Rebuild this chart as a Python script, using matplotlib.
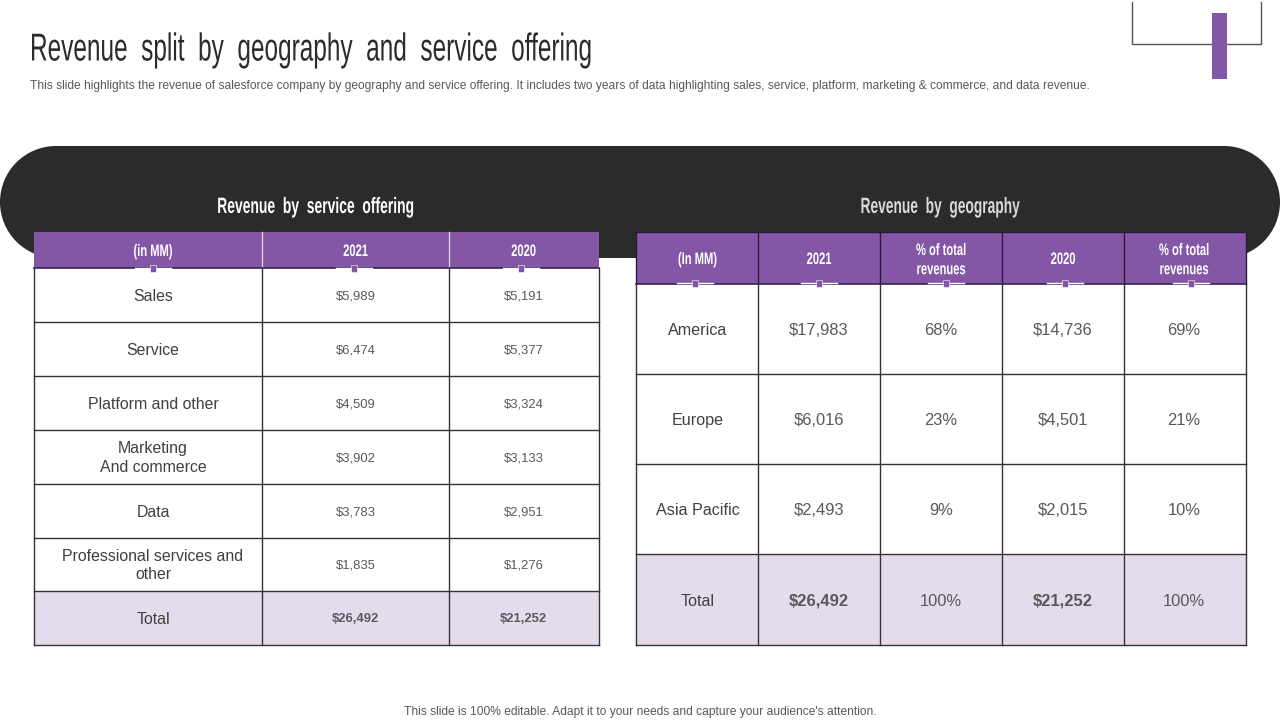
import matplotlib
matplotlib.use("Agg")
import matplotlib.pyplot as plt
from matplotlib.patches import Rectangle, Circle
from matplotlib.patheffects import AbstractPathEffect
from matplotlib.transforms import Affine2D

TITLE = "Revenue  split  by  geography  and  service  offering"
SUBTITLE = ("This slide highlights the revenue of salesforce company by geography and service offering. "
            "It includes two years of data highlighting sales, service, platform, marketing & commerce, and data revenue.")
FOOTER = "This slide is 100% editable. Adapt it to your needs and capture your audience's attention."

LEFT_TITLE = "Revenue  by  service  offering"
RIGHT_TITLE = "Revenue  by  geography"

left_header = ["(in MM)", "2021", "2020"]
left_rows = ["Sales", "Service", "Platform and other", "Marketing\nAnd commerce", "Data",
             "Professional services and\nother", "Total"]
left_2021 = ["$5,989", "$6,474", "$4,509", "$3,902", "$3,783", "$1,835", "$26,492"]
left_2020 = ["$5,191", "$5,377", "$3,324", "$3,133", "$2,951", "$1,276", "$21,252"]

right_header = ["(In MM)", "2021", "% of total\nrevenues", "2020", "% of total\nrevenues"]
right_rows = ["America", "Europe", "Asia Pacific", "Total"]
right_2021 = ["$17,983", "$6,016", "$2,493", "$26,492"]
right_2021_pct = ["68%", "23%", "9%", "100%"]
right_2020 = ["$14,736", "$4,501", "$2,015", "$21,252"]
right_2020_pct = ["69%", "21%", "10%", "100%"]

PURPLE = "#8357a5"
DARK = "#2b2b2b"
LAV = "#e4dcec"
TXT = "#404040"
VAL = "#595959"
SANS = ["Liberation Sans", "DejaVu Sans"]


class SqueezeX(AbstractPathEffect):
    """Draw text narrower about a pixel x position (no condensed font is installed)."""

    def __init__(self, sx, x0):
        super().__init__()
        self.sx, self.x0 = sx, x0

    def draw_path(self, renderer, gc, tpath, affine, rgbFace=None):
        a = affine + Affine2D().translate(-self.x0, 0).scale(self.sx, 1).translate(self.x0, 0)
        renderer.draw_path(gc, tpath, a, rgbFace)


fig = plt.figure(figsize=(12.8, 7.2), dpi=100, facecolor="white")
ax = fig.add_axes([0, 0, 1, 1])
ax.set_xlim(0, 1280)
ax.set_ylim(720, 0)
ax.axis("off")

# header text
ax.text(30, 60.5, TITLE, family=SANS, fontsize=28, color=DARK, va="baseline", ha="left",
        path_effects=[SqueezeX(0.627, 30)])
ax.text(30, 85, SUBTITLE, family=SANS, fontsize=8.65, color="#595959", va="center_baseline", ha="left")
ax.text(640, 711, FOOTER, family=SANS, fontsize=8.67, color="#595959", va="center_baseline", ha="center")

# corner ornament
ax.plot([1132, 1132, 1261, 1261], [2, 43.5, 43.5, 2], color="#555555", lw=1.0, zorder=2)
ax.add_patch(Rectangle((1212, 13), 15, 66, fc=PURPLE, ec="none", zorder=3))

# dark band
r = 56
ax.add_patch(Rectangle((r, 146), 1280 - 2 * r, 2 * r, fc=DARK, ec="none", zorder=1))
ax.add_patch(Circle((r, 146 + r), r, fc=DARK, ec="none", zorder=1))
ax.add_patch(Circle((1280 - r, 146 + r), r, fc=DARK, ec="none", zorder=1))
ax.text(315.5, 213, LEFT_TITLE, family=SANS, weight="bold", fontsize=16, color="white",
        ha="center", va="baseline", zorder=5, path_effects=[SqueezeX(0.625, 315.5)])
ax.text(940, 213, RIGHT_TITLE, family=SANS, weight="bold", fontsize=16, color="#d9d9d9",
        ha="center", va="baseline", zorder=5, path_effects=[SqueezeX(0.62, 940)])


def draw_table(xs, ys, header, columns, centers, ticks, body_sizes, divider, top_border, tick_half, tick_dy,
               bold_total_cols):
    nrows = len(ys) - 2
    ax.add_patch(Rectangle((xs[0], ys[0]), xs[-1] - xs[0], ys[1] - ys[0], fc=PURPLE, ec="none", zorder=3))
    ax.add_patch(Rectangle((xs[0], ys[-2]), xs[-1] - xs[0], ys[-1] - ys[-2], fc=LAV, ec="none", zorder=3))
    ax.add_patch(Rectangle((xs[0], ys[1]), xs[-1] - xs[0], ys[-2] - ys[1], fc="white", ec="none", zorder=3))
    for x in xs[1:-1]:
        ax.plot([x, x], [ys[0], ys[1]], color=divider, lw=1.0, zorder=4)
    if top_border:
        ax.plot([xs[0], xs[-1]], [ys[0], ys[0]], color="#2a1a3a", lw=1.0, zorder=4)
        for x in (xs[0], xs[-1]):
            ax.plot([x, x], [ys[0], ys[1]], color="#2a1a3a", lw=1.0, zorder=4)
    for x in xs:
        ax.plot([x, x], [ys[1], ys[-1]], color="#333333", lw=1.0, zorder=4)
    for y in ys[2:]:
        ax.plot([xs[0], xs[-1]], [y, y], color="#333333", lw=1.0, zorder=4)
    ax.plot([xs[0], xs[-1]], [ys[1], ys[1]], color="#3b2352", lw=1.2, zorder=4)
    for j, label in enumerate(header):
        cx = centers[j]
        lift = 1.5 if "\n" in label else 0
        ax.text(cx, (ys[0] + ys[1]) / 2 - lift, label, family=SANS, weight="bold",
                fontsize=12, color="white", ha="center", va="center_baseline", linespacing=1.35, zorder=6,
                path_effects=[SqueezeX(0.67, cx)])
        tx = ticks[j]
        ax.plot([tx - tick_half, tx + tick_half], [ys[1] + tick_dy] * 2, color="white", lw=1.0, zorder=5)
        ax.add_patch(Rectangle((tx - 3, ys[1] + tick_dy - 3), 6, 7, fc=PURPLE, ec="white", lw=0.4, zorder=6))
    for j, col in enumerate(columns):
        cx = centers[j]
        for i, val in enumerate(col):
            cy = (ys[i + 1] + ys[i + 2]) / 2
            bold = (i == nrows - 1) and (j in bold_total_cols)
            size = body_sizes[min(j, len(body_sizes) - 1)]
            lift = 2 if "\n" in val else 0
            ax.text(cx, cy - lift, val, family=SANS, fontsize=size,
                    color=TXT if j == 0 else VAL, ha="center", va="center_baseline",
                    weight="bold" if bold else "normal", linespacing=1.28, zorder=6)


draw_table([34, 262, 449, 599], [232, 268, 322, 376, 430, 484, 538, 591, 645],
           left_header, [left_rows, left_2021, left_2020], [153, 355.5, 523.5], [153, 354, 521], [11.4, 9.4],
           divider="#d9cbe6", top_border=False, tick_half=18, tick_dy=0, bold_total_cols={1, 2})
draw_table([636, 758, 880, 1002, 1124, 1246], [232, 284, 374, 464, 554, 645],
           right_header, [right_rows, right_2021, right_2021_pct, right_2020, right_2020_pct],
           [697.5, 819, 941, 1063, 1184], [695, 819, 946, 1065, 1191], [11.6, 11.9],
           divider="#2a1a3a", top_border=True, tick_half=18, tick_dy=-1.5, bold_total_cols={1, 3})

fig.savefig("out.png", dpi=100, facecolor="white")
